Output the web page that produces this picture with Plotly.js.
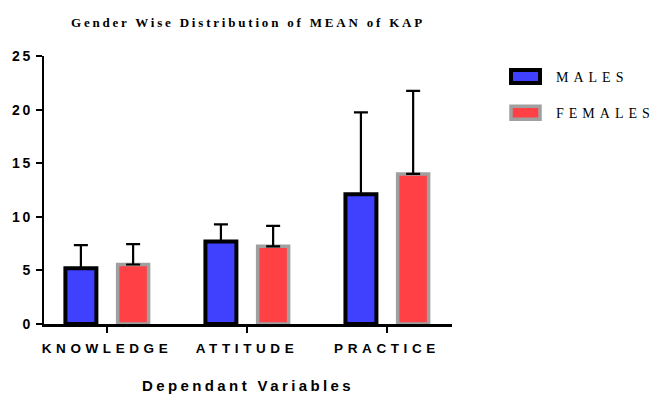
<!DOCTYPE html>
<html>
<head>
<meta charset="utf-8">
<script src="https://cdn.plot.ly/plotly-3.0.1.min.js"></script>
<style>
  html, body { margin: 0; padding: 0; background: #fff; }
  #chart { width: 654px; height: 394px; }
  .gtitle { letter-spacing: 2.8px; }
  .xtick text { letter-spacing: 4.6px; }
  .ytick text { letter-spacing: 2.5px; }
  .xtitle { letter-spacing: 3.4px; }
  .legendtext { letter-spacing: 5px; }
</style>
</head>
<body>
<div id="chart"></div>
<script>
// Data
const categories = ["KNOWLEDGE", "ATTITUDE", "PRACTICE"];
const seriesNames = ["MALES", "FEMALES"];
const malesMean = [5.2, 7.7, 12.1];
const malesSD = [2.15, 1.6, 7.65];
const femalesMean = [5.55, 7.25, 14.0];
const femalesSD = [1.9, 1.9, 7.75];
const yTickVals = [0, 5, 10, 15, 20, 25];

const sansBold = { family: "Liberation Sans, Arial, sans-serif", weight: 700, color: "#000" };

const traces = [
  {
    type: "bar", name: seriesNames[0], legendgroup: "m",
    x: categories, y: malesMean,
    marker: { color: "#4040FF", line: { color: "#000000", width: 4 } },
    error_y: { type: "data", array: malesSD, arrayminus: malesSD.map(() => 0), symmetric: false,
               color: "#000", thickness: 2.2, width: 7 }
  },
  {
    type: "bar", name: seriesNames[1], legendgroup: "f",
    x: categories, y: femalesMean,
    marker: { color: "#FF4045", line: { color: "#A0A0A0", width: 3.5 } },
    error_y: { type: "data", array: femalesSD, arrayminus: femalesSD.map(() => 0), symmetric: false,
               color: "#000", thickness: 2.2, width: 7 }
  }
];

const layout = {
  width: 654, height: 394,
  margin: { l: 44, r: 202, t: 56, b: 70, pad: 0 },
  paper_bgcolor: "#fff", plot_bgcolor: "#fff",
  barmode: "group", bargap: 0.254, bargroupgap: 0.407,
  title: {
    text: "Gender Wise Distribution of MEAN of KAP",
    font: { family: "Liberation Serif, 'Times New Roman', serif", size: 13, weight: 700, color: "#000" },
    xref: "paper", x: 0.5, xanchor: "center",
    yref: "container", y: 1 - 22 / 394, yanchor: "middle"
  },
  xaxis: {
    type: "category", range: [-0.45, 2.464],
    showline: true, linecolor: "#000", linewidth: 2.5,
    ticks: "outside", ticklen: 6, tickwidth: 2, tickcolor: "#000",
    ticklabelstandoff: 4,
    tickfont: Object.assign({ size: 13.5 }, sansBold),
    showgrid: false, zeroline: false, fixedrange: true,
    title: { text: "Dependant Variables", font: Object.assign({ size: 15 }, sansBold), standoff: 26 }
  },
  yaxis: {
    range: [0, 25], tickvals: yTickVals, ticktext: yTickVals.map(String),
    showline: true, linecolor: "#000", linewidth: 2.5,
    ticks: "outside", ticklen: 6, tickwidth: 2, tickcolor: "#000",
    tickfont: Object.assign({ size: 14 }, sansBold),
    showgrid: false, zeroline: false, fixedrange: true
  },
  showlegend: true,
  legend: {
    xref: "container", x: 500 / 654, xanchor: "left",
    yref: "container", y: 1 - 61 / 394, yanchor: "top",
    itemwidth: 46, tracegroupgap: 15,
    font: { family: "Liberation Serif, 'Times New Roman', serif", size: 14, color: "#000" },
    bgcolor: "rgba(0,0,0,0)"
  }
};

Plotly.newPlot("chart", traces, layout, { staticPlot: true, displayModeBar: false }).then(function (gd) {
  // widen the legend swatches to match the reference
  document.querySelectorAll(".legendpoints path").forEach(function (p) {
    p.setAttribute("d", "M12,6.5H-17V-6.5H12Z");
  });
});
</script>
</body>
</html>
